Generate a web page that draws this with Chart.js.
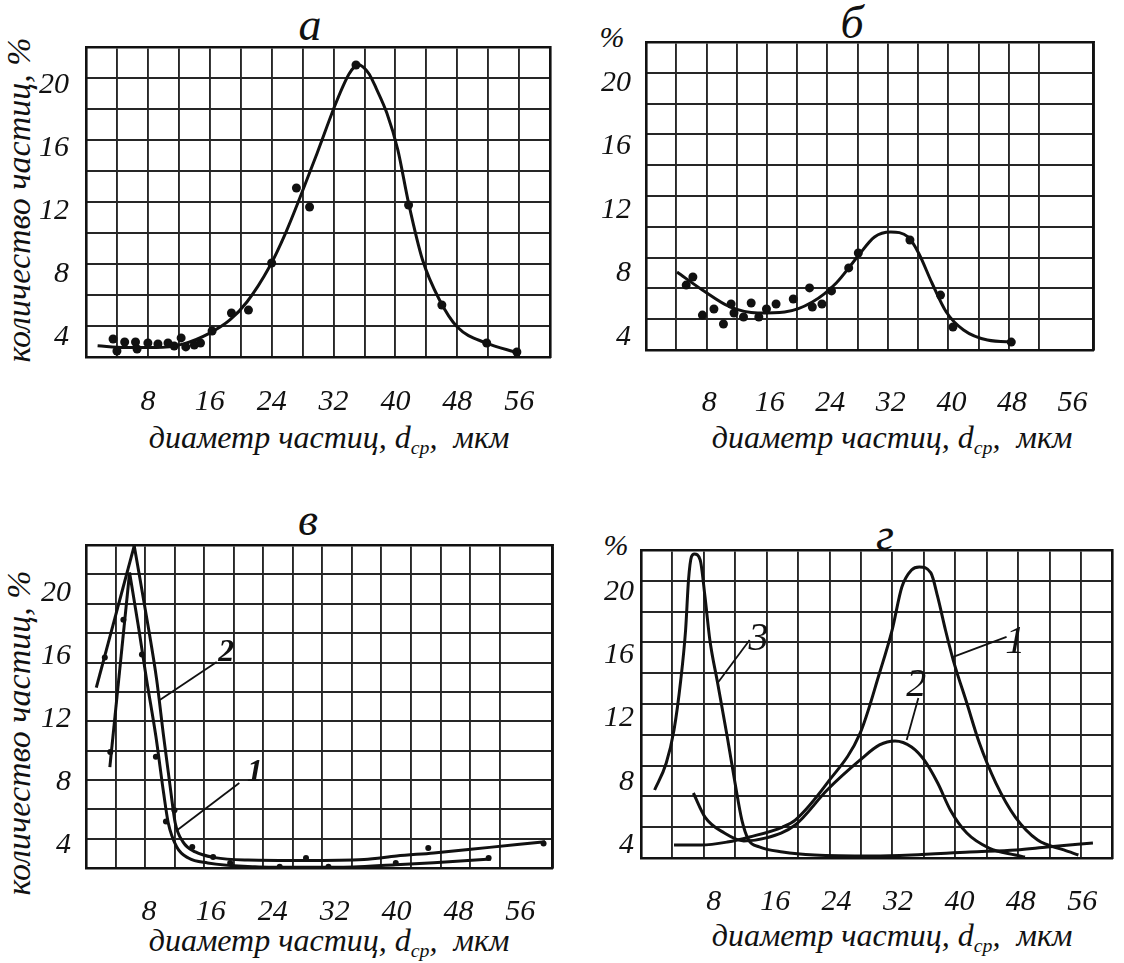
<!DOCTYPE html>
<html>
<head>
<meta charset="utf-8">
<script src="https://cdn.jsdelivr.net/npm/chart.js@4.4.1/dist/chart.umd.min.js"></script>
<style>
html,body{margin:0;padding:0;background:#fff;}
#wrap{position:relative;width:1124px;height:963px;overflow:hidden;background:#fff;
  font-family:'Liberation Serif','Times New Roman',serif;font-style:italic;color:#111;}
#wrap canvas{position:absolute;}
.t{position:absolute;white-space:nowrap;line-height:1;transform:translate(-50%,-50%);}
.ttl{font-size:46px;}
.ax{font-size:32px;}
.ay{font-size:34px;}
.pc{font-size:30px;}
.rot{transform:translate(-50%,-50%) rotate(-90deg);}
sub{font-size:0.62em;vertical-align:-0.28em;line-height:0;}
</style>
</head>
<body>
<div id="wrap">
  <div class="t ttl" style="left:310px;top:25px;">а</div>
  <div class="t ttl" style="left:852px;top:23px;">б</div>
  <div class="t ttl" style="left:308px;top:520px;">в</div>
  <div class="t ttl" style="left:885px;top:535px;">г</div>
  <div class="t pc" style="left:612px;top:37px;">%</div>
  <div class="t pc" style="left:616px;top:545px;">%</div>
  <div class="t ay rot" style="left:19px;top:200px;">количество частиц, %</div>
  <div class="t ay rot" style="left:19px;top:733px;">количество частиц, %</div>
  <div class="t ax" style="left:329px;top:437px;">диаметр частиц, d<sub>ср</sub>,&nbsp; мкм</div>
  <div class="t ax" style="left:892px;top:437px;">диаметр частиц, d<sub>ср</sub>,&nbsp; мкм</div>
  <div class="t ax" style="left:329px;top:940px;">диаметр частиц, d<sub>ср</sub>,&nbsp; мкм</div>
  <div class="t ax" style="left:892px;top:935px;">диаметр частиц, d<sub>ср</sub>,&nbsp; мкм</div>
</div>
<script>
// ---------- tick labels ----------
const xTickLabels = [8, 16, 24, 32, 40, 48, 56];
const yTickLabels = [4, 8, 12, 16, 20];

// ---------- panel а ----------
const aCurve = [[1.5,3.45],[5,3.33],[9,3.33],[12.5,3.55],[16.0,4.25],[18.6,5.08],[20.8,6.22],[23.7,8.44],
  [25.8,10.6],[27.7,12.9],[29.9,15.7],[32.1,18.6],[33.2,19.9],[34.0,20.7],[34.6,21.1],[35.2,21.3],
  [35.8,21.15],[36.6,20.7],[37.5,19.8],[38.9,18.2],[40.3,15.9],[41.7,12.5],[43.5,8.9],[45.7,6.35],
  [48.0,4.63],[51.7,3.62],[55.8,3.0]];
const aPoints = [[3.5,3.87],[4.0,3.11],[5.0,3.68],[6.4,3.68],[6.6,3.24],[8.0,3.62],[9.3,3.56],[10.6,3.62],
  [11.4,3.43],[12.3,3.94],[12.9,3.37],[14.0,3.49],[14.8,3.62],[16.3,4.38],[18.8,5.52],[21.0,5.71],
  [24.0,8.7],[27.2,13.46],[28.9,12.25],[34.9,21.27],[41.7,12.38],[46.0,6.03],[51.8,3.62],[55.7,3.05]];

// ---------- panel б ----------
const bCurve = [[3.76,8.09],[7.11,6.96],[10.77,5.89],[14.43,5.51],[17.97,5.57],[21.63,6.2],[24.79,7.4],
  [27.57,9.04],[29.84,10.3],[31.99,10.61],[34.27,10.3],[35.66,9.29],[37.43,7.4],[39.32,5.57],
  [41.6,4.44],[44.75,3.81],[48.42,3.68]];
const bPoints = [[5.85,7.78],[4.97,7.27],[7.11,5.38],[8.63,5.76],[9.89,4.82],[10.9,6.08],[11.28,5.51],
  [12.54,5.26],[13.55,6.14],[14.56,5.26],[15.57,5.76],[16.84,6.08],[19.11,6.39],[21.26,7.09],
  [21.63,5.89],[22.9,6.08],[24.16,6.9],[26.43,8.35],[27.7,9.29],[34.52,10.11],[38.56,6.64],
  [40.2,4.63],[47.9,3.68]];

// ---------- panel в ----------
const vCurve1Rise = [[2.95,8.95],[5.5,21.3]];
const vCurve1Fall = [[5.5,21.3],[6.7,17.7],[7.7,14.5],[8.9,10.9],[9.9,7.3],[10.5,5.4],[11.6,3.87],
  [13.1,3.17],[15.6,2.86],[21.7,2.62],[27.7,2.58],[34.4,2.6],[39.9,2.75],[44.8,2.88],[52.2,3.11]];
const vCurve2Rise = [[1.2,14.0],[6.1,23.0]];
const vCurve2Fall = [[6.1,23.0],[8.0,17.6],[9.0,14.5],[9.9,10.9],[10.8,7.5],[11.4,5.4],[12.4,4.2],
  [14.0,3.56],[16.5,3.2],[20.8,3.05],[28.1,3.02],[35.8,3.08],[40,3.3],[44.8,3.5],[52,3.85],[59.2,4.2]];
const vPoints = [[2.3,15.9],[4.7,18.3],[3.0,9.9],[7.1,16.1],[8.9,9.6],[11.3,6.2],[10.2,5.5],[13.6,3.87],
  [16.3,3.24],[18.5,2.86],[24.9,2.62],[28.3,3.17],[31.2,2.62],[39.9,2.86],[44.1,3.81],[51.9,3.17],[59.0,4.1]];
const vLeader1 = [[11.68,4.95],[19.68,7.94]];
const vLeader2 = [[9.4,13.21],[16.76,15.62]];

// ---------- panel г ----------
const gCurve1 = [[2.82,4.0],[6.35,4.0],[9.76,4.19],[12.67,4.51],[16.96,5.14],[18.61,5.58],[22.77,7.92],
  [27.07,11.08],[29.59,14.88],[31.23,17.6],[32.5,20.32],[33.76,21.4],[34.77,21.59],[36.28,21.21],
  [37.17,19.69],[38.18,17.6],[39.19,15.7],[40.96,12.98],[42.6,10.45],[44.75,7.92],[47.28,5.77],
  [50.19,4.32],[53.6,3.69],[55.5,3.37]];
const gCurve2 = [[5.34,7.29],[6.86,5.77],[9.38,4.76],[11.91,4.26],[14.82,4.45],[18.61,5.27],[22.77,7.48],
  [27.07,9.38],[29.59,10.33],[31.61,10.58],[33.76,10.2],[35.4,9.38],[37.17,7.92],[38.81,6.22],
  [40.96,4.76],[43.87,3.81],[47.28,3.37],[48.54,3.24]];
const gCurve3 = [[0.29,7.48],[1.81,9.19],[2.82,11.28],[3.7,14.44],[4.33,17.6],[4.71,20.77],[5.09,22.23],
  [5.47,22.41],[6.23,22.03],[6.86,19.69],[7.49,16.97],[8.5,14.25],[9.76,10.83],[10.77,7.92],
  [11.66,5.58],[12.54,4.32],[13.93,3.88],[16.96,3.56],[21.13,3.37],[28.71,3.31],[33.76,3.37],
  [41.34,3.56],[47.4,3.69],[51.45,3.88],[57.39,4.13]];
const gLeader1 = [[39.19,15.9],[46.14,17.16]];
const gLeader2 = [[33.13,10.64],[34.65,13.3]];
const gLeader3 = [[8.5,14.25],[12.67,16.97]];

// ---------- drawing helpers ----------
const INK = '#111';
const GRID = '#262626';
const tickFont = {family:"'Liberation Serif','Times New Roman',serif", size:30, style:'italic'};
const pts = arr => arr.map(p => ({x:p[0], y:p[1]}));

function curve(arr, smooth) {
  return {data:pts(arr), borderColor:INK, borderWidth:3, pointRadius:0, fill:false,
    tension: smooth ? 0.4 : 0, cubicInterpolationMode: smooth ? 'monotone' : 'default'};
}
function marks(arr, r) {
  return {data:pts(arr), showLine:false, pointRadius:r, pointBackgroundColor:INK,
    pointBorderColor:INK, pointBorderWidth:0};
}
function leader(arr) {
  return {data:pts(arr), borderColor:INK, borderWidth:1.8, pointRadius:0, fill:false, tension:0};
}

const calloutPlugin = {
  id:'callouts',
  afterDatasetsDraw(chart, args, opts) {
    const items = opts.items || [];
    const ctx = chart.ctx, xs = chart.scales.x, ys = chart.scales.y;
    ctx.save();
    ctx.fillStyle = INK; ctx.textAlign = 'center'; ctx.textBaseline = 'middle';
    items.forEach(it => {
      ctx.font = it.font;
      ctx.fillText(it.text, xs.getPixelForValue(it.x), ys.getPixelForValue(it.y));
    });
    ctx.restore();
  }
};

function makePanel(L, datasets, callouts) {
  const [cx, cy, cw, ch] = L.canvas;
  const cv = document.createElement('canvas');
  cv.width = cw; cv.height = ch;
  cv.style.left = cx + 'px'; cv.style.top = cy + 'px';
  cv.style.width = cw + 'px'; cv.style.height = ch + 'px';
  document.getElementById('wrap').appendChild(cv);
  const pl = L.plot[0] - cx, pt = L.plot[1] - cy, pr = L.plot[2] - cx, pb = L.plot[3] - cy;
  const border = {display:true, color:INK, width:2.6};
  new Chart(cv, {
    type:'line',
    data:{datasets},
    options:{
      responsive:false, animation:false, devicePixelRatio:1,
      layout:{padding:{left:0, top:pt, right:cw - pr, bottom:0}},
      plugins:{legend:{display:false}, tooltip:{enabled:false}, callouts:{items:callouts || []}},
      scales:{
        x:{type:'linear', position:'bottom', min:L.xRange[0], max:L.xRange[1],
          afterBuildTicks: s => { s.ticks = xTickLabels.map(v => ({value:v})); },
          afterFit: s => { s.height = ch - pb; },
          grid:{display:false, drawTicks:false}, border,
          ticks:{padding:L.xPad, font:tickFont, color:INK, maxRotation:0, autoSkip:false,
            callback: v => String(v)}},
        y:{type:'linear', position:'left', min:L.yRange[0], max:L.yRange[1],
          afterBuildTicks: s => { s.ticks = yTickLabels.map(v => ({value:v})); },
          afterFit: s => { s.width = pl; },
          grid:{display:false, drawTicks:false}, border,
          ticks:{padding:L.yPad, font:tickFont, color:INK, autoSkip:false, callback: v => String(v)}},
        xg:{type:'linear', position:'top', min:L.gridX[0], max:L.gridX[1],
          afterFit: s => { s.height = 0; },
          ticks:{display:false, stepSize:L.gridX[2]},
          grid:{color:GRID, lineWidth:1.9, drawTicks:false}, border},
        yg:{type:'linear', position:'right', min:L.gridY[0], max:L.gridY[1],
          afterFit: s => { s.width = 0; },
          ticks:{display:false, stepSize:L.gridY[2]},
          grid:{color:GRID, lineWidth:1.9, drawTicks:false}, border}
      }
    },
    plugins:[calloutPlugin]
  });
}

// layout of the four panels (page pixels)
const layoutA = {canvas:[0,0,562,481], plot:[86,47,561,357], xRange:[0,60], yRange:[2.73,22.41],
  gridX:[0,60,4], gridY:[0,20,2], xPad:27, yPad:17};
const layoutB = {canvas:[562,0,562,481], plot:[646,42,1114,350], xRange:[-0.34,58.77], yRange:[3.18,22.58],
  gridX:[0,59.2,4], gridY:[0,20,2], xPad:35, yPad:15};
const layoutV = {canvas:[0,481,562,482], plot:[86,545,561,868], xRange:[-0.13,60.19], yRange:[2.54,23.05],
  gridX:[0,63.2,4], gridY:[0,22,2], xPad:26, yPad:15};
const layoutG = {canvas:[562,481,562,482], plot:[641,550,1119,858], xRange:[-1.48,59.93], yRange:[3.18,22.66],
  gridX:[0,60,4], gridY:[0,20,2], xPad:26, yPad:7};

const bigNum = "italic 40px 'Liberation Serif','Times New Roman',serif";
const boldNum = "italic bold 32px 'Liberation Serif','Times New Roman',serif";

makePanel(layoutA, [curve(aCurve, true), marks(aPoints, 4.5)]);
makePanel(layoutB, [curve(bCurve, true), marks(bPoints, 4.5)]);
makePanel(layoutV, [curve(vCurve1Rise, false), curve(vCurve1Fall, true), curve(vCurve2Rise, false),
  curve(vCurve2Fall, true), marks(vPoints, 3), leader(vLeader1), leader(vLeader2)],
  [{text:'2', x:18.0, y:16.19, font:boldNum}, {text:'1', x:21.7, y:8.57, font:boldNum}]);
makePanel(layoutG, [curve(gCurve1, true), curve(gCurve2, true), curve(gCurve3, true),
  leader(gLeader1), leader(gLeader2), leader(gLeader3)],
  [{text:'1', x:47.28, y:16.84, font:bigNum}, {text:'2', x:34.39, y:14.12, font:bigNum},
   {text:'3', x:13.81, y:16.97, font:bigNum}]);
</script>
</body>
</html>
